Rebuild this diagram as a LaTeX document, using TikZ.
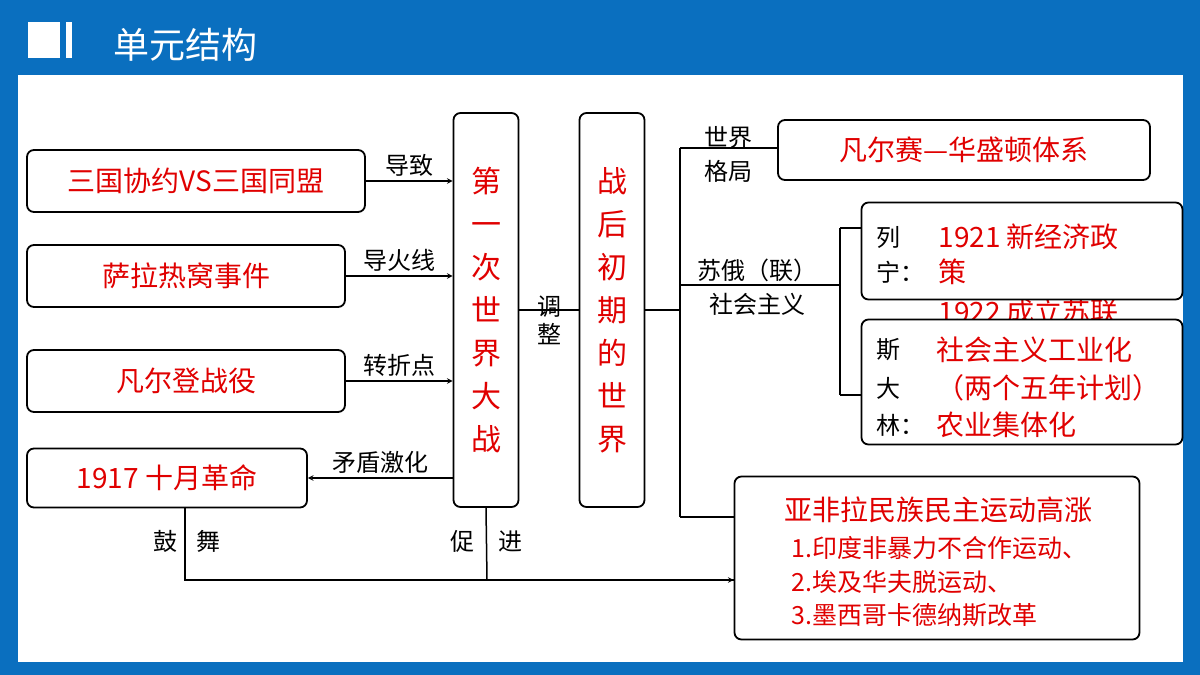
\documentclass[tikz,border=0pt]{standalone}
\usepackage{fontspec}
\setmainfont{Noto Sans CJK SC}
\usetikzlibrary{positioning}
\definecolor{frameblue}{HTML}{0A6FBF}
\definecolor{txtred}{HTML}{E00000}
\tikzset{
  box/.style={draw, line width=1.8pt, rounded corners=7pt, fill=white},
  red/.style={text=txtred, font=\fontsize{28}{32}\selectfont},
  lbl/.style={font=\fontsize{24}{28}\selectfont},
  conn/.style={line width=1.5pt},
  arr/.style={conn, ->, >=stealth}
}
\begin{document}
\begin{tikzpicture}[x=1pt,y=-1pt]
  \useasboundingbox (0,0) rectangle (1200,675);
  \fill[frameblue] (0,0) rectangle (1200,675);
  \fill[white] (18,75) rectangle (1183,662);
  \fill[white] (28,22) rectangle (60,58);
  \fill[white] (66,22) rectangle (72,58);
  \node[text=white, font=\fontsize{36}{40}\selectfont, anchor=west] (title) at (110,45) {单元结构};

  % left column
  \node[box, red, minimum width=338pt, minimum height=62pt] (A) at (196,181) {三国协约VS三国同盟};
  \node[box, red, minimum width=318pt, minimum height=62pt] (B) at (186,276) {萨拉热窝事件};
  \node[box, red, minimum width=318pt, minimum height=62pt] (C) at (186,381) {凡尔登战役};
  \node[box, red, minimum width=280pt, minimum height=59pt] (D) at (167,478) {1917\ 十月革命};

  % middle columns
  \node[box, red, minimum width=65pt, minimum height=394pt, align=center,
        font=\fontsize{30}{43}\selectfont] (E) at (486,310) {第\\一\\次\\世\\界\\大\\战};
  \node[box, red, minimum width=65pt, minimum height=394pt, align=center,
        font=\fontsize{30}{43}\selectfont] (F) at (612,310) {战\\后\\初\\期\\的\\世\\界};

  \draw[arr] (A.east) -- (A.east -| E.west) node[pos=0.5, above, lbl] {导致};
  \draw[arr] (B.east) -- (B.east -| E.west) node[pos=0.5, above, lbl] {导火线};
  \draw[arr] (C.east) -- (C.east -| E.west) node[pos=0.5, above, lbl] {转折点};
  \draw[arr] (D.east -| E.west) -- (D.east) node[pos=0.5, above, lbl] {矛盾激化};
  \draw[conn] (E.east) -- (F.west) node[midway, below, lbl, align=center, inner sep=1pt, yshift=16pt] {调\\整};

  % right side
  \node[box, red, minimum width=372pt, minimum height=60pt] (G) at (964,150) {凡尔赛—华盛顿体系};
  \node[red, anchor=west] (len2) at (935,312) {1922\ 成立苏联};
  \node[box, minimum width=321pt, minimum height=97pt] (H) at (1022,251) {};
  \node[box, minimum width=321pt, minimum height=125pt] (I) at (1022,382) {};
  \node[box, minimum width=405pt, minimum height=163pt] (J) at (937,558) {};

  \node[lbl, anchor=west] (h1) at (873,237) {列};
  \node[lbl, anchor=west] (h2) at (873,272) {宁：};
  \node[red, anchor=west] (h3) at (935,237) {1921\ 新经济政};
  \node[red, anchor=west] (h4) at (935,272) {策};
  \node[lbl, anchor=west] (i1) at (873,350) {斯};
  \node[lbl, anchor=west] (i2) at (873,388) {大};
  \node[lbl, anchor=west] (i3) at (873,425) {林：};
  \node[red, anchor=west] (i4) at (933,350) {社会主义工业化};
  \node[red, anchor=west] (i5) at (933,388) {（两个五年计划）};
  \node[red, anchor=west] (i6) at (933,425) {农业集体化};
  \node[red] (j1) at (938,510) {亚非拉民族民主运动高涨};
  \node[red, anchor=west, font=\fontsize{25}{28}\selectfont] (j2) at (788,548) {1.印度非暴力不合作运动、};
  \node[red, anchor=west, font=\fontsize{25}{28}\selectfont] (j3) at (788,582) {2.埃及华夫脱运动、};
  \node[red, anchor=west, font=\fontsize{25}{28}\selectfont] (j4) at (788,615) {3.墨西哥卡德纳斯改革};

  \coordinate (trunk) at (680,310);
  \coordinate (t1) at (680,148);
  \coordinate (t2) at (680,517);
  \coordinate (s1) at (680,285);
  \coordinate (br) at (840,285);
  \draw[conn] (F.east |- trunk) -- (trunk);
  \draw[conn] (t1) -- (t2);
  \draw[conn] (t1) -- (t1 -| G.west);
  \draw[conn] (t2) -- (t2 -| J.west);
  \draw[conn] (s1) -- (br);
  \draw[conn] (840,228) -- (840,395);
  \draw[conn] (840,228) -- (H.west |- 0,228);
  \draw[conn] (840,395) -- (I.west |- 0,395);
  \node[lbl, align=center, font=\fontsize{24}{34}\selectfont] (wl) at (728,154) {世界\\格局};
  \node[lbl, align=center, font=\fontsize{24}{34}\selectfont] (sl) at (757,287) {苏俄（联）\\社会主义};

  % bottom
  \coordinate (b1) at (185,580);
  \coordinate (b2) at (487,580);
  \draw[conn] (D.south -| b1) -- (b1) -- (b1 -| J.west);
  \draw[conn] (E.south) -- (b2);
  \draw[arr] (b2) -- (b2 -| J.west);
  \node[lbl] (g1) at (165,541) {鼓};
  \node[lbl] (g2) at (208,541) {舞};
  \node[lbl] (c1) at (462,541) {促};
  \node[lbl] (c2) at (510,541) {进};
\end{tikzpicture}
\end{document}
